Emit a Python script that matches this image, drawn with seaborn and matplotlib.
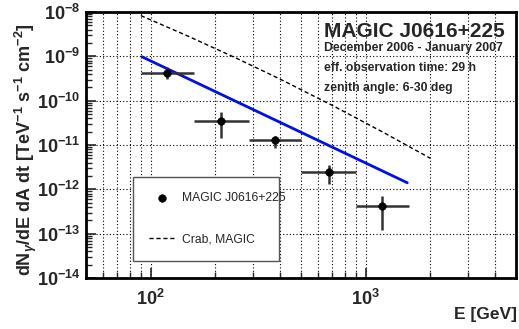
import numpy as np
import matplotlib
matplotlib.use("Agg")
import matplotlib.pyplot as plt
import matplotlib.ticker as mticker
import seaborn as sns
import pandas as pd

# Spektrum-Punkte
energie = [119.5, 212, 378, 672, 1196]
energie_unten = [89.8, 159, 285, 501, 902]
energie_oben = [159, 285, 501, 902, 1588]
fluss = [4.27e-10, 3.53e-11, 1.30e-11, 2.42e-12, 4.27e-13]
fluss_unten = [3.03e-10, 1.42e-11, 8.6e-12, 1.30e-12, 1.24e-13]
fluss_oben = [5.66e-10, 5.55e-11, 1.6e-11, 3.54e-12, 7.2e-13]

# Fit (Potenzgesetz, Endpunkte)
fit_energie = [91, 1560]
fit_fluss = [9.8e-10, 1.41e-12]

# Crab-Referenz
crab_energie = [90, 150, 250, 400, 700, 1200, 2000]
crab_fluss = [8.3e-9, 2.82e-9, 9.1e-10, 3.06e-10, 7.8e-11, 1.96e-11, 5.0e-12]

x_ticks = [1e2, 1e3]
y_ticks = [1e-14, 1e-13, 1e-12, 1e-11, 1e-10, 1e-9, 1e-8]

info_titel = "MAGIC J0616+225"
info_zeilen = ["December 2006 - January 2007",
               "eff. observation time: 29 h",
               "zenith angle: 6-30 deg"]

sns.set_style("ticks")
plt.rcParams["font.family"] = ["Liberation Sans", "DejaVu Sans"]
plt.rcParams["mathtext.fontset"] = "custom"
plt.rcParams["mathtext.rm"] = "Liberation Sans"
plt.rcParams["mathtext.bf"] = "Liberation Sans:bold"
plt.rcParams["mathtext.it"] = "Liberation Sans:italic:bold"

fig = plt.figure(figsize=(5.19, 3.29), dpi=100)
ax = fig.add_axes([0.1657, 0.155, 0.8285, 0.8085])
ax.set_xscale("log")
ax.set_yscale("log")

# Raster
ax.grid(True, which="major", axis="both", color="black", linestyle=(0, (1, 2)), linewidth=0.8)
ax.grid(True, which="minor", axis="x", color="black", linestyle=(0, (1, 2)), linewidth=0.8)
ax.set_axisbelow(True)

df_crab = pd.DataFrame({"E": crab_energie, "F": crab_fluss})
sns.lineplot(data=df_crab, x="E", y="F", ax=ax, color="black", linewidth=1.0,
             linestyle=(0, (3, 2)), label="Crab, MAGIC", zorder=3)

df_fit = pd.DataFrame({"E": fit_energie, "F": fit_fluss})
sns.lineplot(data=df_fit, x="E", y="F", ax=ax, color="#0010e0", linewidth=2.0,
             label="_fit", zorder=4)

E = np.array(energie)
F = np.array(fluss)
xerr = [E - np.array(energie_unten), np.array(energie_oben) - E]
yerr = [F - np.array(fluss_unten), np.array(fluss_oben) - F]
ax.errorbar(E, F, xerr=xerr, yerr=yerr, fmt="none", ecolor="#333333",
            elinewidth=1.8, capsize=0, zorder=5)
df_pkt = pd.DataFrame({"E": energie, "F": fluss})
sns.scatterplot(data=df_pkt, x="E", y="F", ax=ax, color="black", s=30,
                edgecolor="black", label="MAGIC J0616+225", zorder=6)

# Achsen
for s in ax.spines.values():
    s.set_linewidth(2.0)
    s.set_color("black")

def fmt(v, pos):
    e = int(round(np.log10(v)))
    return r"$\mathbf{10^{%d}}$" % e

ax.xaxis.set_major_locator(mticker.FixedLocator(x_ticks))
ax.xaxis.set_minor_locator(mticker.LogLocator(base=10, subs=np.arange(2, 10), numticks=20))
ax.xaxis.set_major_formatter(mticker.FuncFormatter(fmt))
ax.xaxis.set_minor_formatter(mticker.NullFormatter())
ax.yaxis.set_major_locator(mticker.FixedLocator(y_ticks))
ax.yaxis.set_minor_locator(mticker.LogLocator(base=10, subs=np.arange(2, 10), numticks=20))
ax.yaxis.set_major_formatter(mticker.FuncFormatter(fmt))
ax.yaxis.set_minor_formatter(mticker.NullFormatter())
ax.set_xlim(50, 5000)
ax.set_ylim(1e-14, 1e-8)

ax.tick_params(axis="both", which="major", direction="in", length=7, width=1.2,
               labelsize=13, pad=4)
ax.tick_params(axis="both", which="minor", direction="in", length=4, width=1.0)
ax.tick_params(axis="x", which="major", pad=8)

ax.set_xlabel("")
ax.set_ylabel(r"dN$_\gamma$/dE dA dt [TeV$^{\mathbf{-1}}$ s$^{\mathbf{-1}}$ cm$^{\mathbf{-2}}$]",
              fontsize=13, fontweight="bold")
ax.yaxis.set_label_coords(-0.14, 0.481)
ax.yaxis.label.set_va("center")
fig.text(0.996, 0.03, "E [GeV]", ha="right", va="baseline", fontsize=12.5, fontweight="bold")

# Info-Text
ax.text(0.553, 0.906, info_titel, transform=ax.transAxes, fontsize=15,
        fontweight="bold", ha="left", va="baseline")
for i, zeile in enumerate(info_zeilen):
    ax.text(0.553, 0.853 - i * 0.075, zeile, transform=ax.transAxes, fontsize=8.8,
            fontweight="bold", ha="left", va="baseline")

# Legende
h, l = ax.get_legend_handles_labels()
order = [l.index("MAGIC J0616+225"), l.index("Crab, MAGIC")]
leg = ax.legend([h[i] for i in order], [l[i] for i in order],
                loc="lower left", bbox_to_anchor=(0.109, 0.064, 0.34, 0.30),
                mode="expand", borderaxespad=0, fontsize=8.7, frameon=True,
                fancybox=False, edgecolor="#555555", framealpha=1,
                labelspacing=2.4, handlelength=2.3, borderpad=1.3,
                handletextpad=0.5)
leg.get_frame().set_linewidth(1.0)

fig.savefig("out.png", dpi=100)
